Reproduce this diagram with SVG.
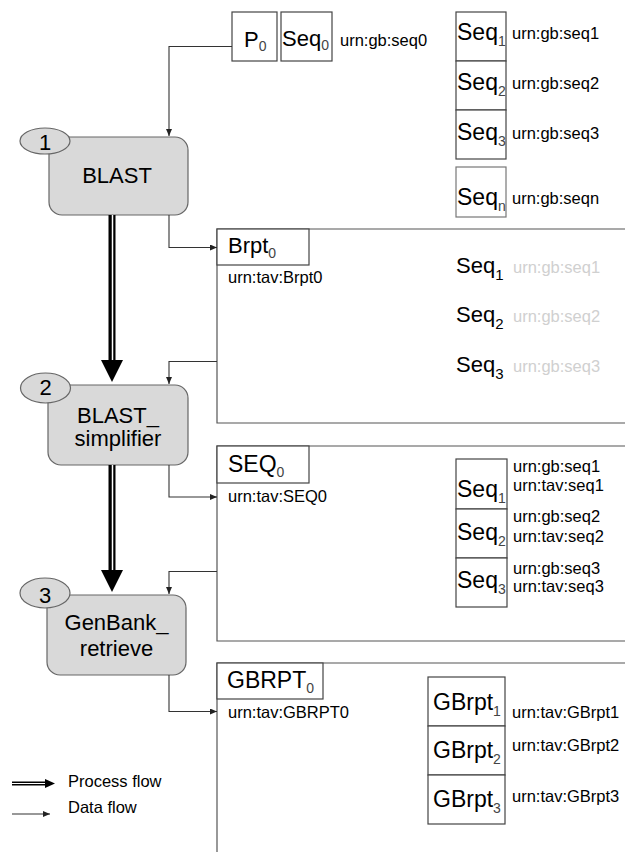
<svg xmlns="http://www.w3.org/2000/svg" width="625" height="852" viewBox="0 0 625 852">
<style>
text{font-family:"Liberation Sans",Arial,sans-serif;fill:#000}
.urn{font-size:16.5px}
.faint{font-size:16.5px;fill:#d0d0d0}
.lbl{font-size:22px}
.big{font-size:23px}
.sub{font-size:14px;fill:#444}
.subk{font-size:15px}
.proc{fill:#d9d9d9;stroke:#666;stroke-width:1.2}
.oval{fill:#d9d9d9;stroke:#666;stroke-width:1.2}
.box{fill:#fff;stroke:#444;stroke-width:1.2}
.frame{fill:none;stroke:#555;stroke-width:1.2}
.data{fill:none;stroke:#333;stroke-width:1.1}
.ctr{text-anchor:middle}
</style>
<defs>
<marker id="ah" markerWidth="8" markerHeight="6" refX="7" refY="3" orient="auto" markerUnits="userSpaceOnUse">
<path d="M0,0 L7,3 L0,6 Z" fill="#222"/>
</marker>
</defs>

<!-- input -->
<g id="P0">
<rect class="box" x="232" y="12" width="45" height="49"/>
<text class="lbl" x="244" y="47">P<tspan class="sub" dy="4">0</tspan></text>
</g>
<g id="Seq0">
<rect class="box" x="281" y="12" width="51" height="49"/>
<text class="lbl" x="282" y="46">Seq<tspan class="sub" dy="4">0</tspan></text>
<text class="urn" x="340" y="46">urn:gb:seq0</text>
</g>

<g id="seqlist">
<rect class="box" x="456" y="12" width="50" height="49"/>
<rect class="box" x="456" y="61" width="50" height="49"/>
<rect class="box" x="456" y="110" width="50" height="49"/>
<rect class="box" x="456" y="167" width="50" height="50" style="stroke:#777"/>
<text class="big" x="457" y="40">Seq<tspan class="sub" dy="6">1</tspan></text>
<text class="big" x="457" y="90">Seq<tspan class="sub" dy="6">2</tspan></text>
<text class="big" x="457" y="140">Seq<tspan class="sub" dy="6">3</tspan></text>
<text class="big" x="457" y="205">Seq<tspan class="sub" dy="6">n</tspan></text>
<text class="urn" x="512" y="39">urn:gb:seq1</text>
<text class="urn" x="512" y="89">urn:gb:seq2</text>
<text class="urn" x="512" y="139">urn:gb:seq3</text>
<text class="urn" x="512" y="204">urn:gb:seqn</text>
</g>

<!-- processes -->
<g id="BLAST">
<rect class="proc" x="49" y="137" width="139" height="78" rx="13"/>
<ellipse class="oval" cx="45" cy="141" rx="25" ry="13"/>
<text class="lbl ctr" x="45" y="150">1</text>
<text class="lbl ctr" x="117" y="183">BLAST</text>
</g>
<g id="BLAST_simplifier">
<rect class="proc" x="48" y="385" width="140" height="80" rx="13"/>
<ellipse class="oval" cx="45.5" cy="388" rx="25" ry="15"/>
<text class="lbl ctr" x="45.5" y="395">2</text>
<text class="lbl ctr" x="118" y="423">BLAST_</text>
<text class="lbl ctr" x="118" y="446">simplifier</text>
</g>
<g id="GenBank_retrieve">
<rect class="proc" x="47" y="595" width="139" height="80" rx="13"/>
<ellipse class="oval" cx="45" cy="593" rx="25" ry="15"/>
<text class="lbl ctr" x="45" y="603">3</text>
<text class="lbl ctr" x="116.5" y="630">GenBank_</text>
<text class="lbl ctr" x="116.5" y="656">retrieve</text>
</g>

<!-- data products -->
<g id="Brpt0">
<path class="frame" d="M625,229 H217 V423 H625"/>
<rect class="box" x="217" y="229" width="92" height="36"/>
<text class="lbl" x="228" y="253">Brpt<tspan class="sub" dy="5">0</tspan></text>
<text class="urn" x="228" y="283">urn:tav:Brpt0</text>
<text class="lbl" x="456" y="273">Seq<tspan class="subk" dy="7">1</tspan></text>
<text class="lbl" x="456" y="322">Seq<tspan class="subk" dy="7">2</tspan></text>
<text class="lbl" x="456" y="372">Seq<tspan class="subk" dy="7">3</tspan></text>
<text class="faint" x="513" y="273">urn:gb:seq1</text>
<text class="faint" x="513" y="322">urn:gb:seq2</text>
<text class="faint" x="513" y="372">urn:gb:seq3</text>
</g>
<g id="SEQ0">
<path class="frame" d="M625,446 H217 V641 H625"/>
<rect class="box" x="217" y="446" width="92" height="37"/>
<text class="big" x="228" y="472">SEQ<tspan class="sub" dy="5">0</tspan></text>
<text class="urn" x="228" y="502">urn:tav:SEQ0</text>
<rect class="box" x="456" y="459" width="51" height="50"/>
<rect class="box" x="456" y="509" width="51" height="49"/>
<rect class="box" x="456" y="558" width="51" height="49"/>
<text class="big" x="457" y="497">Seq<tspan class="sub" dy="6">1</tspan></text>
<text class="big" x="457" y="540">Seq<tspan class="sub" dy="6">2</tspan></text>
<text class="big" x="457" y="588">Seq<tspan class="sub" dy="6">3</tspan></text>
<text class="urn" x="513" y="472">urn:gb:seq1</text>
<text class="urn" x="513" y="491">urn:tav:seq1</text>
<text class="urn" x="513" y="522">urn:gb:seq2</text>
<text class="urn" x="513" y="542">urn:tav:seq2</text>
<text class="urn" x="513" y="574">urn:gb:seq3</text>
<text class="urn" x="513" y="592">urn:tav:seq3</text>
</g>
<g id="GBRPT0">
<path class="frame" d="M625,663 H217 V852"/>
<rect class="box" x="217" y="663" width="106" height="36"/>
<text class="big" x="227" y="688">GBRPT<tspan class="sub" dy="5">0</tspan></text>
<text class="urn" x="228" y="718">urn:tav:GBRPT0</text>
<rect class="box" x="428" y="677" width="77" height="49"/>
<rect class="box" x="428" y="726" width="77" height="49"/>
<rect class="box" x="428" y="775" width="77" height="49"/>
<text class="big" x="433" y="710">GBrpt<tspan class="sub" dy="6">1</tspan></text>
<text class="big" x="433" y="758">GBrpt<tspan class="sub" dy="6">2</tspan></text>
<text class="big" x="433" y="807">GBrpt<tspan class="sub" dy="6">3</tspan></text>
<text class="urn" x="512" y="718">urn:tav:GBrpt1</text>
<text class="urn" x="512" y="751">urn:tav:GBrpt2</text>
<text class="urn" x="512" y="802">urn:tav:GBrpt3</text>
</g>

<!-- connectors -->
<g id="connectors">
<line x1="112" y1="215" x2="112" y2="362" stroke="#000" stroke-width="7"/>
<line x1="112.5" y1="215" x2="112.5" y2="362" stroke="#fff" stroke-width="1.5"/>
<polygon points="101,360 123,360 112,382" fill="#000"/>
<line x1="112" y1="465" x2="112" y2="572" stroke="#000" stroke-width="7"/>
<line x1="112.5" y1="465" x2="112.5" y2="572" stroke="#fff" stroke-width="1.5"/>
<polygon points="101,570 123,570 112,592" fill="#000"/>

<path class="data" d="M232,46.5 H169 V136" marker-end="url(#ah)"/>
<path class="data" d="M169,215 V247.5 H217" marker-end="url(#ah)"/>
<path class="data" d="M217,361.5 H169 V384" marker-end="url(#ah)"/>
<path class="data" d="M169,465 V497 H217" marker-end="url(#ah)"/>
<path class="data" d="M217,571.5 H169 V594" marker-end="url(#ah)"/>
<path class="data" d="M169,675 V711.5 H217" marker-end="url(#ah)"/>
</g>

<!-- legend -->
<g id="legend">
<line x1="12" y1="783.5" x2="47" y2="783.5" stroke="#000" stroke-width="4"/>
<line x1="12" y1="783.5" x2="47" y2="783.5" stroke="#fff" stroke-width="1"/>
<polygon points="45,779 55,783.5 45,788" fill="#000"/>
<text class="urn" x="68" y="787">Process flow</text>
<path class="data" d="M12,814 H50" marker-end="url(#ah)"/>
<text class="urn" x="68" y="813">Data flow</text>
</g>
</svg>
